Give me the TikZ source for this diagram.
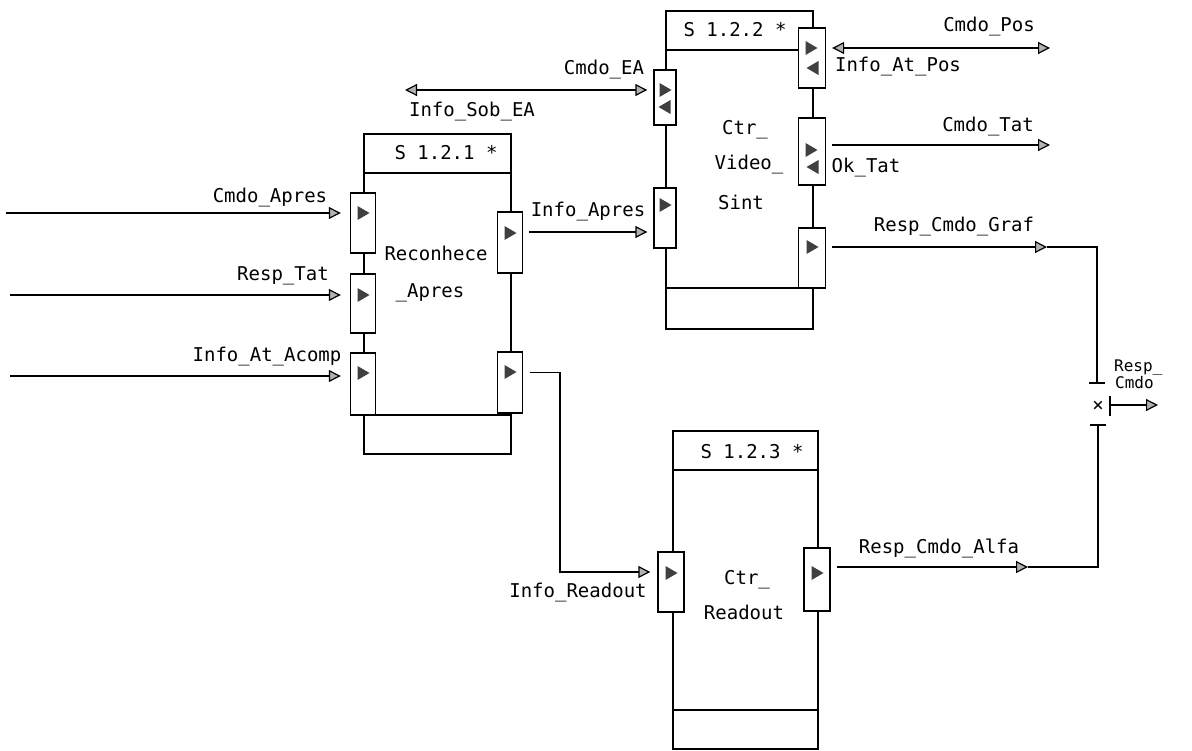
\documentclass[tikz,border=0pt]{standalone}
\usepackage{fontspec}
\setmonofont{DejaVu Sans Mono}
\usetikzlibrary{arrows.meta,calc}
\begin{document}
\begin{tikzpicture}[x=1pt,y=-1pt,
  blk/.style={draw, line width=1.6pt},
  sep/.style={line width=1.6pt},
  port/.style={draw, fill=white, line width=1.4pt, inner sep=0pt, minimum width=25pt},
  lbl/.style={font=\fontsize{19}{20}\selectfont\ttfamily, inner sep=0pt},
  slbl/.style={font=\fontsize{16}{16}\selectfont\ttfamily, inner sep=0pt},
  tip/.tip={Triangle[length=12pt,width=12pt,fill=gray!60]},
  conn/.style={line width=1.2pt, -tip},
  dconn/.style={line width=1.2pt, tip-tip},
  wire/.style={line width=1.4pt},
  ptr/.pic={\fill[black!75] (-5.5,-7)--(6.5,0)--(-5.5,7)--cycle;},
  ptl/.pic={\fill[black!75] (5.5,-7)--(-6.5,0)--(5.5,7)--cycle;}
]
\useasboundingbox (0,0) rectangle (1192,751);

% ---------- Block S 1.2.1 ----------
\node[blk, minimum width=147pt, minimum height=320pt, anchor=north west, inner sep=0pt] (b1) at (363,133) {};
\draw[sep] (363,173) -- (510,173);
\draw[sep] (363,415) -- (510,415);
\node[lbl] (t1) at (446,153) {S 1.2.1 *};
\node[lbl] (n1a) at (436,253) {Reconhece};
\node[lbl] (n1b) at (430,293) {\_Apres};
\node[port, minimum height=60pt] (l11) at (363,223) {};
\node[port, minimum height=59pt] (l12) at (363,303.5) {};
\node[port, minimum height=62pt] (l13) at (363,384) {};
\node[port, minimum height=61pt] (r11) at (510,242.5) {};
\node[port, minimum height=61pt] (r12) at (510,382.5) {};
\pic at (363,213) {ptr};
\pic at (363,295) {ptr};
\pic at (363,373) {ptr};
\pic at (510,233) {ptr};
\pic at (510,372) {ptr};

% ---------- Block S 1.2.2 ----------
\node[blk, minimum width=147pt, minimum height=318pt, anchor=north west, inner sep=0pt] (b2) at (665,10) {};
\draw[sep] (665,50) -- (812,50);
\draw[sep] (665,288) -- (812,288);
\node[lbl] (t2) at (735,30) {S 1.2.2 *};
\node[lbl] (n2a) at (745,130) {Ctr\_};
\node[lbl] (n2b) at (749,165) {Video\_};
\node[lbl] (n2c) at (741,202) {Sint};
\node[port, minimum width=22pt, minimum height=55pt] (la) at (665,97.5) {};
\node[port, minimum width=22pt, minimum height=60pt] (lb) at (665,218) {};
\node[port, minimum width=27pt, minimum height=60pt] (ra) at (812,58) {};
\node[port, minimum width=27pt, minimum height=67pt] (rb) at (812,151.5) {};
\node[port, minimum width=27pt, minimum height=60pt] (rc) at (812,258) {};
\pic at (665,90) {ptr};
\pic at (665,107) {ptl};
\pic at (665,205) {ptr};
\pic at (811,48) {ptr};
\pic at (813,68) {ptl};
\pic at (811,150) {ptr};
\pic at (813,167) {ptl};
\pic at (812,247) {ptr};

% ---------- Block S 1.2.3 ----------
\node[blk, minimum width=145pt, minimum height=318pt, anchor=north west, inner sep=0pt] (b3) at (672,430) {};
\draw[sep] (672,470) -- (817,470);
\draw[sep] (672,710) -- (817,710);
\node[lbl] (t3) at (752,452) {S 1.2.3 *};
\node[lbl] (n3a) at (747,580) {Ctr\_};
\node[lbl] (n3b) at (744,612) {Readout};
\node[port, minimum width=26pt, minimum height=60pt] (l3) at (671,582) {};
\node[port, minimum width=26pt, minimum height=63pt] (r3) at (817,579.5) {};
\pic at (671,573) {ptr};
\pic at (817,573) {ptr};

% ---------- Inputs to S 1.2.1 ----------
\coordinate (in1) at (6,213);
\coordinate (in2) at (10,295);
\coordinate (in3) at (10,376);
\draw[conn] (in1) -- ([xshift=-9pt]l11.west |- in1);
\draw[conn] (in2) -- ([xshift=-9pt]l12.west |- in2);
\draw[conn] (in3) -- ([xshift=-9pt]l13.west |- in3);
\node[lbl] (lab1) at (270,198) {Cmdo\_Apres};
\node[lbl] (lab2) at (283,276) {Resp\_Tat};
\node[lbl] (lab3) at (267,357) {Info\_At\_Acomp};

% ---------- Cmdo_EA / Info_Sob_EA ----------
\coordinate (ea) at (405,90);
\draw[dconn] (ea) -- ([xshift=-6pt]la.west |- ea);
\node[lbl] (lab4) at (604,70) {Cmdo\_EA};
\node[lbl] (lab5) at (472,112) {Info\_Sob\_EA};

% ---------- Info_Apres ----------
\coordinate (ia) at ($(r11.east)+(6,-10.5)$);
\draw[conn] (ia) -- ([xshift=-6pt]lb.west |- ia);
\node[lbl] (lab6) at (588,212) {Info\_Apres};

% ---------- Info_Readout ----------
\coordinate (ir1) at ($(r12.east)+(7,-10)$);
\coordinate (ir2) at ($(l3.west)+(-7,-10)$);
\draw[conn] (ir1) -- (560,372.5) -- (560,572) -- (ir2);
\node[lbl] (lab7) at (578,593) {Info\_Readout};

% ---------- Cmdo_Pos / Info_At_Pos ----------
\coordinate (cp) at ($(ra.east)+(6,-10)$);
\coordinate (cpe) at (1050,48);
\draw[dconn] (cp) -- (cpe);
\node[lbl] (lab8) at (989,27) {Cmdo\_Pos};
\node[lbl] (lab9) at (898,67) {Info\_At\_Pos};

% ---------- Cmdo_Tat / Ok_Tat ----------
\coordinate (ct) at ($(rb.east)+(6,-6.5)$);
\coordinate (cte) at (1050,145);
\draw[conn] (ct) -- (cte);
\node[lbl] (lab10) at (988,127) {Cmdo\_Tat};
\node[lbl] (lab11) at (866,168) {Ok\_Tat};

% ---------- Resp_Cmdo_Graf ----------
\coordinate (rg) at ($(rc.east)+(6,-11)$);
\coordinate (rga) at (1047,247);
\coordinate (rgb) at (1097,383);
\draw[conn] (rg) -- (rga);
\draw[wire] (rga) -- (1097,247) -- (rgb);
\draw[wire] ([xshift=-8pt]rgb) -- ([xshift=8pt]rgb);
\node[lbl] (lab12) at (954,227) {Resp\_Cmdo\_Graf};

% ---------- Resp_Cmdo_Alfa ----------
\coordinate (ra1) at ($(r3.east)+(6,-12.5)$);
\coordinate (raa) at (1028,567);
\coordinate (rab) at (1098,425);
\draw[conn] (ra1) -- (raa);
\draw[wire] (raa) -- (1098,567) -- (rab);
\draw[wire] ([xshift=-8pt]rab) -- ([xshift=8pt]rab);
\node[lbl] (lab13) at (939,548) {Resp\_Cmdo\_Alfa};

% ---------- Junction / Resp_Cmdo ----------
\node[lbl] (jx) at (1098,406) {×};
\coordinate (jb) at (1110,405);
\draw[wire] (1110,396) -- (1110,416);
\coordinate (jo) at (1158,405);
\draw[conn] (jb) -- (jo);
\node[slbl, anchor=west] (lab14) at (1114,368) {Resp\_};
\node[slbl, anchor=west] (lab15) at (1115,383) {Cmdo};
\end{tikzpicture}
\end{document}
